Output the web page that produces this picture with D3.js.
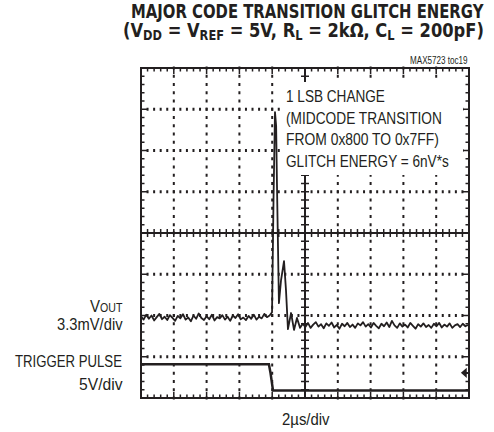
<!DOCTYPE html>
<html><head><meta charset="utf-8">
<script src="https://cdn.jsdelivr.net/npm/d3@7"></script>
<style>
html,body{margin:0;padding:0;background:#fff;}
svg{display:block;}
text{fill:#231f20;}
</style></head>
<body>
<svg id="c" width="494" height="432"></svg>
<script>
// ---- data ----
const timeDomain = [-10, 10];          // µs (2 µs/div, 10 div)
const divDomain = [-4, 4];             // vertical divisions
const sampleStep = 0.16;               // µs between noise samples
const voutBeforeStart = -10;
const voutBefore = [-2.02,-2.10,-1.98,-2.08,-2.00,-2.12,-2.04,-1.96,-2.09,-2.03,-2.11,-1.99,-2.06,-2.13,-2.01,-2.07,-1.97,-2.10,-2.05,-2.14,-2.00,-2.08,-1.95,-2.06,-2.11,-2.02,-2.09,-1.98,-2.12,-2.04,-2.07,-1.99,-2.10,-2.03,-2.13,-2.00,-2.06,-1.97,-2.09,-2.05,-2.11,-2.01,-2.08,-1.98,-2.10,-2.03,-2.07,-1.96,-2.04,-2.00];
const transientT = [-2.01,-1.92,-1.83,-1.76,-1.71,-1.59,-1.46,-1.28,-1.16,-1.04,-0.85,-0.67,-0.49,-0.30];
const transientV = [-1.92, 0.80, 2.93, 2.60, 1.20,-1.70,-1.14,-0.68,-1.38,-2.33,-1.94,-2.35,-2.06,-2.30];
const voutAfterStart = -0.14;
const voutAfter = [-2.20,-2.28,-2.18,-2.30,-2.22,-2.16,-2.27,-2.21,-2.31,-2.19,-2.25,-2.17,-2.29,-2.23,-2.32,-2.20,-2.26,-2.18,-2.28,-2.22,-2.30,-2.19,-2.24,-2.16,-2.27,-2.21,-2.29,-2.18,-2.25,-2.31,-2.20,-2.26,-2.17,-2.28,-2.13,-2.24,-2.30,-2.19,-2.27,-2.22,-2.29,-2.18,-2.25,-2.32,-2.21,-2.27,-2.19,-2.28,-2.23,-2.30,-2.20,-2.26,-2.18,-2.29,-2.22,-2.27,-2.19,-2.30,-2.24,-2.21,-2.28,-2.20,-2.26,-2.23];
const triggerT = [-10, -2.20, -2.10, -1.95, 10];
const triggerV = [-3.18, -3.18, -3.40, -3.82, -3.82];
const triggerLevel = -3.39;
const titleLine1 = "MAJOR CODE TRANSITION GLITCH ENERGY";
const noteLines = ["1 LSB CHANGE","(MIDCODE TRANSITION","FROM 0x800 TO 0x7FF)","GLITCH ENERGY = 6nV*s"];
const tocLabel = "MAX5723 toc19";
const xLabel = "2µs/div";

// ---- layout ----
const L = 141, R = 469, T = 68, B = 398;
const svg = d3.select("#c");
const x = d3.scaleLinear().domain(timeDomain).range([L, R]);
const y = d3.scaleLinear().domain(divDomain).range([B, T]);
const ink = "#231f20";
const narrow = "'Liberation Sans','Arial',sans-serif";
const boldFont = "'DejaVu Sans','Liberation Sans',sans-serif";

function fit(sel, x0, x1) {
  sel.attr("x", 0).attr("text-anchor", "start");
  const bb = sel.node().getBBox();
  const k = (x1 - x0) / bb.width;
  sel.attr("transform", `translate(${x0},0) scale(${k},1) translate(${-bb.x},0)`);
  return sel;
}
function label(str, yb, x0, x1, size) {
  const t = svg.append("text").attr("y", yb).attr("font-family", narrow).attr("font-size", size).text(str);
  return fit(t, x0, x1);
}

// grid (dotted at minor positions)
const g = svg.append("g");
const majorX = d3.range(-8, 10, 2);           // µs
const majorY = d3.range(-3, 4, 1);
const minorXs = d3.range(-10, 10.001, 0.4);
const minorYs = d3.range(-4, 4.001, 0.2);
majorX.filter(v => v !== 0).forEach(v => {
  minorYs.forEach(m => {
    g.append("rect").attr("x", x(v) - 1).attr("y", y(m) - 1.5).attr("width", 2).attr("height", 3).attr("fill", ink);
  });
});
majorY.filter(v => v !== 0).forEach(v => {
  minorXs.forEach(m => {
    g.append("rect").attr("x", x(m) - 1).attr("y", y(v) - 1.5).attr("width", 2).attr("height", 3).attr("fill", ink);
  });
});

// center axes
g.append("line").attr("x1", L).attr("x2", R).attr("y1", y(0)).attr("y2", y(0)).attr("stroke", ink).attr("stroke-width", 2);
g.append("line").attr("x1", x(0)).attr("x2", x(0)).attr("y1", T).attr("y2", B).attr("stroke", ink).attr("stroke-width", 2);
minorXs.forEach(m => g.append("line").attr("x1", x(m)).attr("x2", x(m)).attr("y1", y(0) - 4).attr("y2", y(0) + 4).attr("stroke", ink).attr("stroke-width", 1.5));
minorYs.forEach(m => g.append("line").attr("y1", y(m)).attr("y2", y(m)).attr("x1", x(0) - 4).attr("x2", x(0) + 4).attr("stroke", ink).attr("stroke-width", 1.5));

// border
g.append("rect").attr("x", L).attr("y", T).attr("width", R - L).attr("height", B - T).attr("fill", "none").attr("stroke", ink).attr("stroke-width", 2);
minorXs.forEach((m, i) => {
  const len = (i % 5 === 0) ? 6 : 3.5;
  g.append("line").attr("x1", x(m)).attr("x2", x(m)).attr("y1", T).attr("y2", T + len).attr("stroke", ink).attr("stroke-width", 1.5);
  g.append("line").attr("x1", x(m)).attr("x2", x(m)).attr("y1", B).attr("y2", B - len).attr("stroke", ink).attr("stroke-width", 1.5);
});
minorYs.forEach((m, i) => {
  const len = (i % 5 === 0) ? 6 : 3.5;
  g.append("line").attr("y1", y(m)).attr("y2", y(m)).attr("x1", L).attr("x2", L + len).attr("stroke", ink).attr("stroke-width", 1.5);
  g.append("line").attr("y1", y(m)).attr("y2", y(m)).attr("x1", R).attr("x2", R - len).attr("stroke", ink).attr("stroke-width", 1.5);
});

// white box behind the annotation
svg.append("rect").attr("x", 280).attr("y", 82).attr("width", 183).attr("height", 93).attr("fill", "#fff");

// traces
const vout = [];
voutBefore.forEach((v, i) => vout.push([voutBeforeStart + i * sampleStep, v]));
transientT.forEach((t, i) => vout.push([t, transientV[i]]));
voutAfter.forEach((v, i) => vout.push([voutAfterStart + i * sampleStep, v]));
const line = d3.line().x(d => x(d[0])).y(d => y(d[1]));
svg.append("path").attr("d", line(vout)).attr("fill", "none").attr("stroke", ink).attr("stroke-width", 1.8).attr("stroke-linejoin", "round");
svg.append("path").attr("d", line(triggerT.map((t, i) => [t, triggerV[i]]))).attr("fill", "none").attr("stroke", ink).attr("stroke-width", 2.5);

// trigger level arrow on right edge
const ty = y(triggerLevel);
svg.append("path").attr("d", `M${R - 7},${ty} L${R - 3},${ty - 3.5} L${R - 3},${ty + 3.5} Z M${R - 4},${ty} L${R},${ty}`).attr("fill", ink).attr("stroke", ink).attr("stroke-width", 1.5);

// title
const t1 = svg.append("text").attr("y", 17.5).attr("font-family", boldFont).attr("font-weight", "bold").attr("font-size", 20).text(titleLine1);
fit(t1, 131, 484);
const t2 = svg.append("text").attr("y", 37).attr("font-family", boldFont).attr("font-weight", "bold").attr("font-size", 20);
const parts = [["(V",0],["DD",1],[" = V",0],["REF",1],[" = 5V, R",0],["L",1],[" = 2k\u03A9, C",0],["L",1],[" = 200pF)",0]];
parts.forEach(p => {
  const ts = t2.append("tspan").text(p[0]);
  if (p[1]) ts.attr("font-size", 14).attr("baseline-shift", "-3");
});
fit(t2, 123, 484);

label(tocLabel, 64, 410, 468, 10);

// annotation
const noteEnds = [385, 442, 439, 449];
noteLines.forEach((s, i) => label(s, 102 + i * 21.6, 286, noteEnds[i], 17));

// left labels
const lv = svg.append("text").attr("y", 312).attr("font-family", narrow).attr("font-size", 17);
lv.append("tspan").text("V");
lv.append("tspan").attr("font-size", 12).text("OUT");
fit(lv, 90, 123);
label("3.3mV/div", 330, 57, 123, 17);
label("TRIGGER PULSE", 367, 15, 122, 17);
label("5V/div", 390, 79, 123, 17);

label(xLabel, 425, 282, 330, 17);
</script>
</body></html>
